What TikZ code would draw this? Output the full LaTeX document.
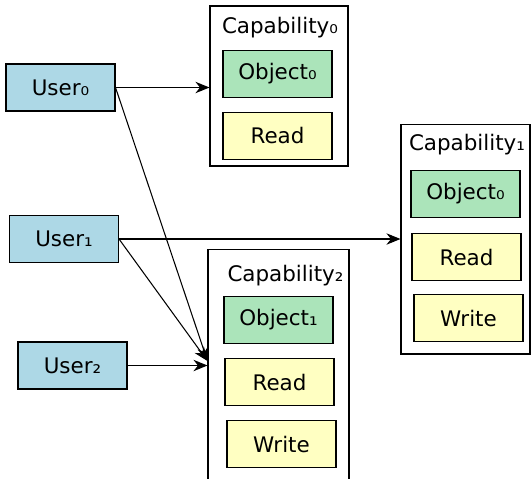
\documentclass[tikz,border=0pt]{standalone}
\usepackage{fontspec}
\setmainfont{DejaVu Sans}
\usetikzlibrary{arrows.meta}

\begin{document}
\begin{tikzpicture}[x=0.02cm, y=-0.02cm, line width=0.6pt,
  every node/.style={font=\fontsize{12.2}{14}\selectfont, inner sep=0pt},
  userbox/.style={draw, fill=userblue, minimum width=2.18cm, minimum height=0.94cm},
  capbox/.style={draw, fill=white},
  objbox/.style={draw, fill=objgreen, minimum width=2.18cm, minimum height=0.94cm},
  rightbox/.style={draw, fill=rightyellow, minimum width=2.18cm, minimum height=0.94cm},
  link/.style={-{Stealth[length=8pt,width=6.5pt]}}]

% Define colors
\definecolor{userblue}{RGB}{173,216,230}
\definecolor{objgreen}{RGB}{171,228,186}
\definecolor{rightyellow}{RGB}{255,255,194}

\useasboundingbox (0,0) rectangle (531,478);
\clip (0,0) rectangle (531,478);

% Draw the users
\node[userbox] (user0) at (60.5,87.5) {User₀};
\node[userbox] (user1) at (64,239) {User₁};
\node[userbox] (user2) at (72.5,365.5) {User₂};

% Draw the capabilities
\node[capbox, minimum width=2.76cm, minimum height=3.2cm] (cap0) at (279,86) {};
\node (cap0t) at (280,28) {Capability₀};
\node[objbox] (cap0o) at (277.5,74) {Object₀};
\node[rightbox] (cap0r) at (277.5,136) {Read};

\node[capbox, minimum width=2.58cm, minimum height=4.6cm] (cap1) at (465.5,239) {};
\node (cap1t) at (467,145) {Capability₁};
\node[objbox] (cap1o) at (465.5,194) {Object₀};
\node[rightbox] (cap1r) at (466.5,257) {Read};
\node[rightbox] (cap1w) at (468.5,318) {Write};

\node[capbox, minimum width=2.82cm, minimum height=5.2cm] (cap2) at (278.5,379) {};
\node (cap2t) at (285.5,276) {Capability₂};
\node[objbox] (cap2o) at (278.5,320) {Object₁};
\node[rightbox] (cap2r) at (279.5,382) {Read};
\node[rightbox] (cap2w) at (281.5,444) {Write};
\coordinate (cap2in) at (cap2.west |- 0,361);

% Draw the links
\draw[link] (user0.east) -- (cap0.west |- user0.east);
\draw[link] (user0.east) -- (cap2in);
\draw[link] (user1.east) -- (cap1.west |- user1.east);
\draw[link] (user1.east) -- (cap2in);
\draw[link] (user2.east) -- (cap2.west |- user2.east);

\end{tikzpicture}
\end{document}
